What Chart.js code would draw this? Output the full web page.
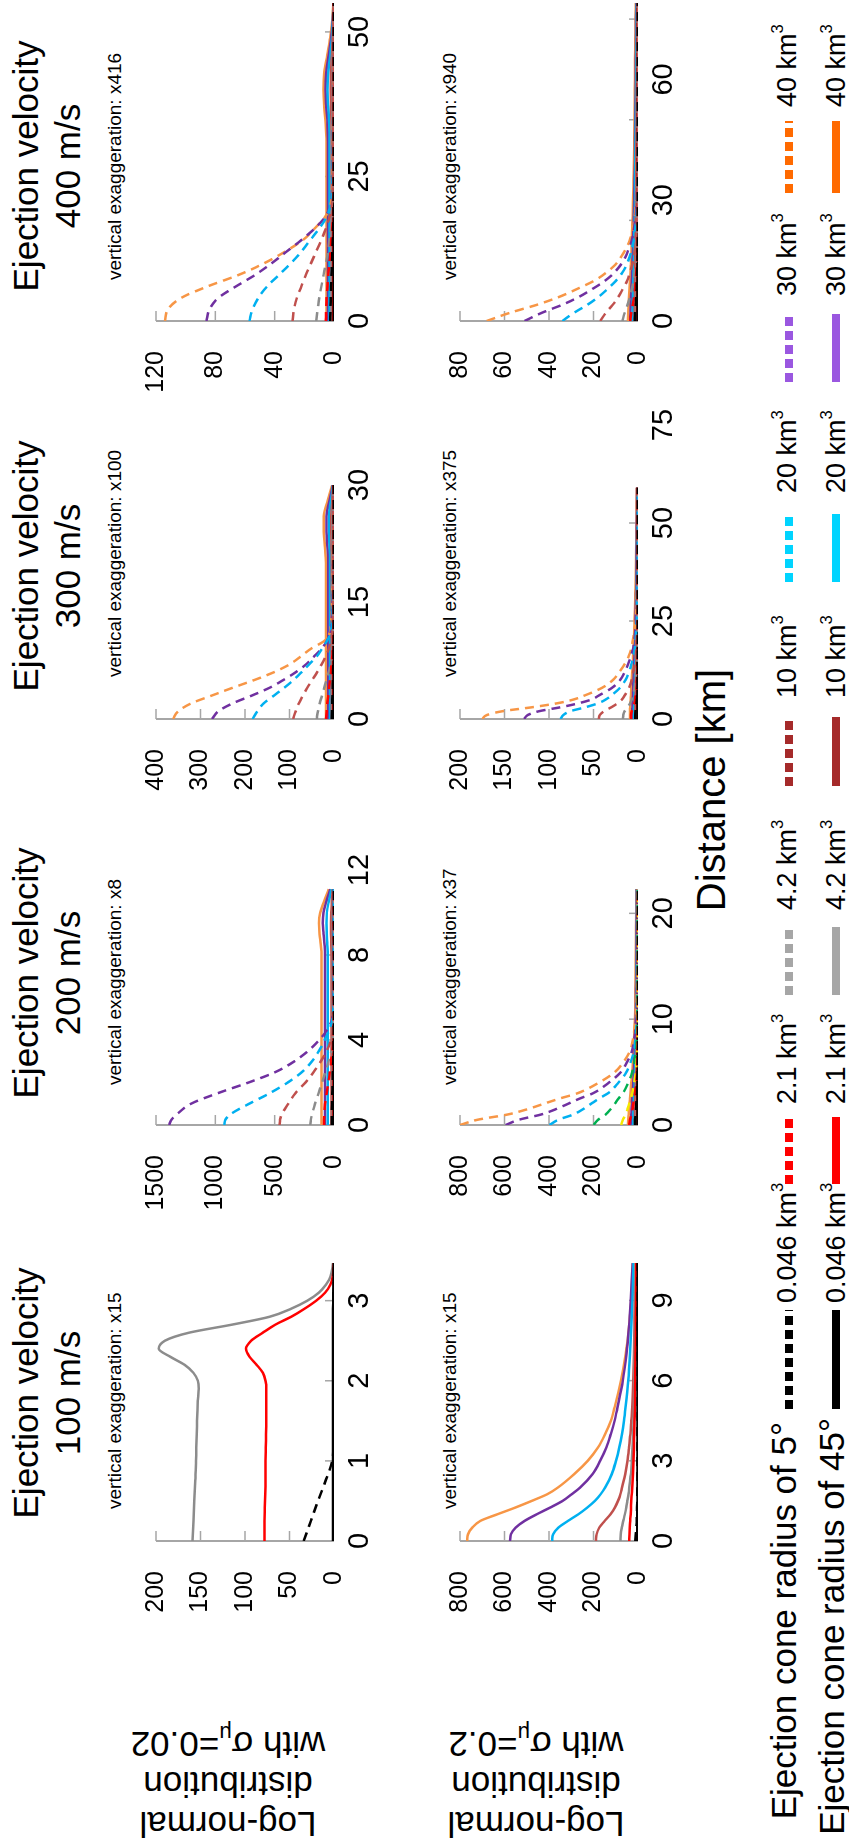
<!DOCTYPE html>
<html>
<head>
<meta charset="utf-8">
<script src="https://cdn.jsdelivr.net/npm/chart.js@4.4.1/dist/chart.umd.min.js"></script>
<style>
html,body{margin:0;padding:0;background:#fff;}
body{width:849px;height:1846px;overflow:hidden;position:relative;font-family:"Liberation Sans",Arial,sans-serif;color:#000;}
#fig{position:absolute;left:0;top:0;width:1846px;height:849px;transform-origin:0 0;transform:translate(0px,1846px) rotate(-90deg);}
#fig canvas{position:absolute;}
.title{position:absolute;top:5px;width:400px;text-align:center;font-size:35px;line-height:42px;white-space:nowrap;}
.note{position:absolute;font-size:19px;line-height:19px;white-space:nowrap;}
.rowlab{position:absolute;width:300px;height:120px;left:-88px;text-align:center;font-size:35px;line-height:40px;transform:rotate(-90deg);white-space:nowrap;}
.rowlab sub{font-size:62%;line-height:0;vertical-align:-0.3em;}
.xlab{position:absolute;left:856px;top:691px;width:400px;text-align:center;font-size:40px;line-height:40px;white-space:nowrap;}
.legtitle{position:absolute;left:0;text-align:right;font-size:35px;line-height:35px;white-space:nowrap;}
.legtext{position:absolute;font-size:27px;line-height:27px;white-space:nowrap;}
.legtext sup{font-size:62%;line-height:0;vertical-align:0.75em;}
.mark{position:absolute;height:8px;}
</style>
</head>
<body>
<div id="fig">
  <div class="title" style="left:253px">Ejection velocity<br>100 m/s</div>
  <div class="title" style="left:673px">Ejection velocity<br>200 m/s</div>
  <div class="title" style="left:1080px">Ejection velocity<br>300 m/s</div>
  <div class="title" style="left:1480px">Ejection velocity<br>400 m/s</div>

  <div class="rowlab" style="top:168px">Log-normal<br>distribution<br>with σ<sub>μ</sub>=0.02</div>
  <div class="rowlab" style="top:476px">Log-normal<br>distribution<br>with σ<sub>μ</sub>=0.2</div>

  <div class="note" style="left:337px;top:105px">vertical exaggeration: x15</div>
  <div class="note" style="left:761px;top:105px">vertical exaggeration: x8</div>
  <div class="note" style="left:1169px;top:105px">vertical exaggeration: x100</div>
  <div class="note" style="left:1566px;top:105px">vertical exaggeration: x416</div>
  <div class="note" style="left:337px;top:440px">vertical exaggeration: x15</div>
  <div class="note" style="left:761px;top:440px">vertical exaggeration: x37</div>
  <div class="note" style="left:1169px;top:440px">vertical exaggeration: x375</div>
  <div class="note" style="left:1566px;top:440px">vertical exaggeration: x940</div>

  <div class="xlab">Distance [km]</div>

  <div class="legtitle" style="top:766px;width:424px">Ejection cone radius of 5°</div>
  <div class="legtitle" style="top:814px;width:428px">Ejection cone radius of 45°</div>
</div>

<script>
// ---------------- DATA ----------------
// Legend categories (volumes)
const volumeLabels = ["0.046","2.1","4.2","10","20","30","40"];

// Panel A: 100 m/s, sigma 0.02
const distA = [0,0.25,0.5,0.75,1,1.25,1.5,1.75,1.9,2,2.1,2.2,2.3,2.4,2.5,2.6,2.7,2.8,2.9,3,3.1,3.2,3.3,3.47];
const A_black5  = [34,26,18,9.5,2,0.6,0.4,0.4,0.4,0.4,0.4,0.4,0.4,0.4,0.4,0.4,0.4,0.4,0.4,0.4,0.4,0.3,0.2,0.1];
const A_black45 = [1,1,1,1,1,1,1,1,1,1,1,1,1,1,1,1,1,1,1,0.9,0.8,0.6,0.4,0.2];
const A_red45   = [78,78,77.5,77,77,76.5,76,76,76,77,80,87,95,99,93,80,66,48,33,20,10,4,1.5,0.3];
const A_gray45  = [159,158,157,156,155,154.5,154,153,152,153,158,168,184,197,190,163,115,72,48,30,17,9,4,1];
const xTicksA = [0,1,2,3], xMarksA = [1,2,3], yTicksA = [0,50,100,150,200];

// Panel B: 100 m/s, sigma 0.2
const distB = [0,0.25,0.5,0.75,1,1.25,1.5,1.75,2,2.5,3,3.5,4,4.5,5,6,7,8,9,10.4];
const B_black5   = [12,10,8,6,5,4,3.5,3,2.8,2.5,2.2,2,1.8,1.6,1.5,1.3,1.2,1.1,1,1];
const B_black45  = [3,3,3,3,3,3,2.8,2.7,2.6,2.5,2.4,2.3,2.2,2.1,2,1.9,1.8,1.7,1.6,1.5];
const B_red45    = [39,38.5,37,35,33,31.5,30,28,26,23,20.5,18.5,17,15.5,14,12.5,11,10,9,8];
const B_gray45   = [79,78,73,66,59,53,48,43,39,32,28,25,22,20,18,16,15,14,13,12];
const B_brown45  = [189,186,174,150,124,104,90,79,72,57,47,40,34,30,26,21,18,16,14,12];
const B_cyan45   = [386,381,358,315,268,228,194,168,148,118,99,84,72,63,56,44,36,30,25,20];
const B_purple45 = [575,571,550,510,455,395,339,298,260,205,170,142,122,105,92,68,52,41,33,24];
const B_orange45 = [768,764,745,709,632,552,478,408,360,287,226,180,148,122,105,77,55,40,30,24];
const xTicksB = [0,3,6,9], xMarksB = [3,6,9], yTicksB = [0,200,400,600,800];

// Panel C: 200 m/s, sigma 0.02
const distC = [0,0.25,0.5,1,1.5,2,2.5,3,3.5,4,4.5,5,5.5,6,7,8,8.5,9,9.5,10,10.5,11.1];
const C_black5  = [20,19.5,19,17,14.5,12,9.5,7,5,3,1.5,0.5,0.3,0.3,0.3,0.3,0.3,0.3,0.3,0.3,0.3,0.3];
const C_red5    = [85,84,82,75,62,48,35,24,14,7,3,1,0.5,0.5,0.5,0.5,0.5,0.5,0.5,0.5,0.5,0.5];
const C_gray5   = [200,195,185,160,130,100,72,45,22,8,3,1.5,1,0.8,0.8,0.8,0.8,0.8,0.8,0.8,0.8,0.8];
const C_brown5  = [459,455,440,385,325,240,170,111,60,25,10,5,3,2,1.5,1,1,1,1,1,1,1];
const C_cyan5   = [926,915,874,715,540,390,268,185,125,78,38,12,5,3,2,1.5,1.5,1.5,1.5,1.5,1.5,1.5];
const C_purple5 = [1390,1370,1325,1205,978,720,490,333,215,125,55,15,6,4,2,1.5,1.5,1.5,1.5,1.5,1.5,1.5];
const C_black45  = [1,1,1,1,1,1,1,1,1,1,1,1,1,1,1,1,1,1,1,1,1,1];
const C_red45    = [5,5,5,5,5,5,5,5,5,5,5,5,5,5,5,5,5,5.5,5.5,5,4,2.5];
const C_gray45   = [10,10,10,10,10,10,10,10,10,10,10,10,10,10,10,10,10.5,11,11.5,11,8,5];
const C_brown45  = [22,22,22,22,22,22,22,22,22,22,22,22,22,22,22,22,23,25,26,24,18,10];
const C_cyan45   = [52,52,52,52,52,52,52,52,52,52,52,52,52,52,52,52,56,61,64,60,45,22];
const C_purple45 = [75,75,75,75,75,75,75,75,75,75,75,75,75,75,75,75,80,88,95,88,65,32];
const C_orange45 = [105,105,105,105,105,105,105,105,105,105,105,105,105,105,105,105,112,122,126,116,85,45];
const xTicksC = [0,4,8,12], xMarksC = [4,8], yTicksC = [0,500,1000,1500];

// Panel D: 200 m/s, sigma 0.2
const distD = [0,0.5,1,1.5,2,2.5,3,4,5,6,7,8,9,10,12,14,16,18,20,22.3];
const D_black5  = [14,13,11,9,8,6.5,5,3.5,2,1.2,0.8,0.5,0.4,0.3,0.3,0.3,0.3,0.3,0.3,0.3];
const D_red5    = [40,36,29,25,21,18,14,9,5,3,2,1.2,0.8,0.6,0.5,0.4,0.4,0.3,0.3,0.3];
const D_yellow5 = [76,68,55,47,40,33,26,17,10,6,3.5,2.3,1.5,1,0.8,0.6,0.5,0.5,0.4,0.4];
const D_green5  = [199,179,145,123,105,88,68,44,26,16,9,6,4,3,2,1,1,1,0.5,0.5];
const D_cyan5   = [398,358,290,247,211,175,135,88,52,32,18,12,8,5,3,2,1.5,1,1,1];
const D_purple5 = [595,535,434,369,315,262,202,131,77,48,27,18,12,7,4,3,2,2,1.5,1];
const D_orange5 = [800,720,584,496,424,352,272,176,104,64,36,24,16,10,6,4,3,2.5,2,1.5];
const D_black45  = [2,2,2,2,1.9,1.9,1.8,1.7,1.6,1.5,1.4,1.3,1.2,1.1,1,0.9,0.8,0.7,0.6,0.5];
const D_red45    = [5,5,4.9,4.8,4.7,4.6,4.5,4.2,4,3.7,3.4,3.2,3,2.8,2.5,2.2,2,1.8,1.6,1.5];
const D_gray45   = [8,8,7.8,7.6,7.4,7.2,7,6.6,6.2,5.8,5.4,5,4.6,4.3,3.8,3.3,2.9,2.5,2.2,2];
const D_brown45  = [14,14,13.5,13,12.5,12,11,10,8.5,7.5,6.5,6,5.5,5,4.5,4,3.5,3,3,3];
const D_cyan45   = [22,21.5,21,20,19,18,17,15,13,12,10.5,9.5,8.5,7.5,6.5,5.5,5,4.5,4,4];
const D_purple45 = [32,31,30,29,27,26,24,21,19,17,15,13,12,10,9,8,7,6.5,6,6];
const D_orange45 = [45,44,42,40,38,36,34,30,26,23,20,18,16,14,12,11,10,9,8,8];
const xTicksD = [0,10,20], xMarksD = [10,20], yTicksD = [0,200,400,600,800];

// Panel E: 300 m/s, sigma 0.02
const distE = [0,1,2,3,4,5,6,7,8,9,10,11,12,14,16,18,20,22,24,26,28,30];
const E_black5  = [5,4.5,4,3.5,3,2.5,2,1.5,1,1,0.8,0.6,0.5,0.5,0.5,0.5,0.5,0.5,0.5,0.5,0.5,0.5];
const E_red5    = [18,16.5,15,13,11,9,7,5.5,4,3,2,1.5,1,1,1,1,1,1,1,1,1,1];
const E_gray5   = [39,36,32,27,22,17,12,8,5,3,2,1.5,1,1,1,1,1,1,1,1,1,1];
const E_brown5  = [92,86,79,70,60,49,38,28,19,12,7,4,3,2,1.5,1.5,1,1,1,1,1,1];
const E_cyan5   = [183,172,158,135,112,91,73,56,39,27,16,8,5,3,2.5,2,1.5,1.5,1,1,1,1];
const E_purple5 = [274,260,228,185,145,114,86,63,45,28,16,8,6,4,3,2,2,1.5,1,1,1,1];
const E_orange5 = [362,350,321,275,228,179,135,100,75,52,22,10,7,5,4,3,2.5,2,1.5,1,1,1];
const E_black45  = [0.5,0.5,0.5,0.5,0.5,0.5,0.5,0.5,0.5,0.5,0.5,0.5,0.5,0.5,0.5,0.5,0.5,0.5,0.5,0.5,0.5,0.5];
const E_red45    = [1.5,1.5,1.5,1.5,1.5,1.5,1.5,1.5,1.5,1.5,1.5,1.5,1.5,1.5,1.5,1.5,1.5,1.5,1.5,1.5,1.2,0.8];
const E_gray45   = [3,3,3,3,3,3,3,3,3,3,3,3,3,3,3,3,3,3,3.5,3.5,2.5,1];
const E_brown45  = [5,5,5,5,5,5,5,5,5,5,5,5,5,5,5,5,5,5.5,6,6,4,1.5];
const E_cyan45   = [9,9,9,9,9,9,9,9,9,9,9,9,9,9,9,9,9,10,11.5,11.5,7,2.5];
const E_purple45 = [13,13,13,13,13,13,13,13,13,13,13,13,13,13,13,13,13,14.5,17,17,10,3];
const E_orange45 = [18,18,18,18,18,18,18,18,18,18,18,18,18,18,18,18,18,20,23,23,14,4];
const xTicksE = [0,15,30], xMarksE = [15], yTicksE = [0,100,200,300,400];

// Panel F: 300 m/s, sigma 0.2
const distF = [0,1,2,3,4,5,6,8,10,12,14,16,18,20,24,28,32,36,40,45,50,55,59];
const F_black5  = [3,3,2.7,2.1,1.6,1.3,1,0.7,0.5,0.4,0.3,0.2,0.2,0.2,0.2,0.2,0.2,0.2,0.2,0.2,0.2,0.2,0.2];
const F_red5    = [8,7.8,7,5.5,4.2,3.3,2.7,1.8,1.3,0.9,0.7,0.5,0.3,0.3,0.2,0.2,0.2,0.2,0.2,0.2,0.2,0.2,0.2];
const F_gray5   = [17,16.5,15,11.5,9,7,5.8,3.9,2.7,2,1.4,1,0.7,0.6,0.3,0.2,0.2,0.2,0.2,0.2,0.2,0.2,0.2];
const F_brown5  = [44,43,38,30,23,18,15,10,7,5.3,3.7,2.6,1.9,1.5,0.8,0.5,0.3,0.2,0.2,0.2,0.2,0.2,0.2];
const F_cyan5   = [87,84,76,59,45,36,30,20,14,10,7.4,5.2,3.7,2.9,1.6,0.9,0.6,0.4,0.3,0.3,0.3,0.2,0.2];
const F_purple5 = [128,124,111,87,67,52,44,29,20,15,11,8,5.5,4.2,2.3,1.3,0.9,0.6,0.5,0.4,0.4,0.3,0.3];
const F_orange5 = [175,170,152,119,91,72,60,40,28,21,15,10.5,7.5,5.8,3.2,1.8,1.2,0.9,0.7,0.6,0.5,0.4,0.4];
const F_black45  = [0.6,0.6,0.6,0.6,0.6,0.6,0.6,0.5,0.5,0.5,0.5,0.5,0.4,0.4,0.4,0.4,0.3,0.3,0.3,0.3,0.3,0.2,0.2];
const F_red45    = [1.5,1.5,1.5,1.5,1.4,1.4,1.4,1.3,1.3,1.2,1.2,1.1,1.1,1,1,0.9,0.8,0.8,0.7,0.7,0.6,0.6,0.5];
const F_gray45   = [2,2,2,2,1.9,1.9,1.9,1.8,1.7,1.6,1.6,1.5,1.4,1.3,1.2,1.1,1,0.9,0.8,0.8,0.7,0.6,0.6];
const F_brown45  = [3,3,3,2.9,2.8,2.8,2.7,2.5,2.4,2.2,2.1,2,1.8,1.7,1.5,1.3,1.2,1.1,1,0.9,0.8,0.7,0.7];
const F_cyan45   = [4.5,4.5,4.5,4.4,4.2,4.1,4,3.7,3.5,3.2,3,2.8,2.5,2.3,2,1.7,1.5,1.3,1.2,1,0.9,0.8,0.8];
const F_purple45 = [6.5,6.5,6.5,6.3,6.1,5.9,5.7,5.4,5,4.7,4.3,4,3.6,3.3,2.9,2.5,2.2,1.9,1.7,1.5,1.3,1.2,1.1];
const F_orange45 = [9,9,9,8.8,8.5,8.2,8,7.5,7,6.5,6,5.5,5,4.6,4,3.4,3,2.6,2.3,2,1.8,1.6,1.5];
const xTicksF = [0,25,50,75], xMarksF = [25,50], yTicksF = [0,50,100,150,200];

// Panel G: 400 m/s, sigma 0.02
const distG = [0,2,4,6,8,10,12,14,16,18,20,22,25,28,31,34,37,40,43,46,49,52,55];
const G_black5  = [2.5,2.4,2.2,2,1.7,1.4,1.1,0.8,0.6,0.4,0.3,0.2,0.2,0.2,0.2,0.2,0.2,0.2,0.2,0.2,0.2,0.2,0.2];
const G_red5    = [5.5,5.3,5,4.4,3.8,3.1,2.4,1.8,1.2,0.8,0.5,0.4,0.3,0.3,0.3,0.3,0.3,0.3,0.3,0.3,0.3,0.3,0.3];
const G_gray5   = [12,11,10,8.5,7,5.5,4,3,2,1.2,0.8,0.6,0.5,0.5,0.4,0.4,0.4,0.3,0.3,0.3,0.3,0.2,0.2];
const G_brown5  = [28,27,25,22,19,15.5,12,8.5,5.5,3,1.5,1,0.8,0.7,0.6,0.5,0.5,0.4,0.4,0.4,0.3,0.3,0.3];
const G_cyan5   = [57,55,51,45,37,29,22,16,10,5,2.5,1.5,1,0.8,0.7,0.6,0.5,0.5,0.5,0.4,0.4,0.3,0.3];
const G_purple5 = [86,84,78,66,53,42,32,22,13,6,2.5,1.5,1,0.8,0.7,0.6,0.5,0.5,0.5,0.4,0.4,0.3,0.3];
const G_orange5 = [114,112,103,85,64,47,33,21,13,6,2.5,1.5,1,0.8,0.7,0.6,0.5,0.5,0.5,0.4,0.4,0.3,0.3];
const G_black45  = [0.2,0.2,0.2,0.2,0.2,0.2,0.2,0.2,0.2,0.2,0.2,0.2,0.2,0.2,0.2,0.2,0.2,0.2,0.2,0.2,0.2,0.2,0.2];
const G_red45    = [0.5,0.5,0.5,0.5,0.5,0.5,0.5,0.5,0.5,0.5,0.5,0.5,0.5,0.5,0.5,0.5,0.6,0.6,0.6,0.5,0.4,0.3,0.2];
const G_gray45   = [0.9,0.9,0.9,0.9,0.9,0.9,0.9,0.9,0.9,0.9,0.9,0.9,0.9,0.9,0.9,1,1.1,1.2,1.1,0.8,0.5,0.3,0.2];
const G_brown45  = [1.6,1.6,1.6,1.6,1.6,1.6,1.6,1.6,1.6,1.6,1.6,1.6,1.6,1.6,1.6,1.7,2,2.2,2,1.4,0.8,0.4,0.2];
const G_cyan45   = [3,3,3,3,3,3,3,3,3,3,3,3,3,3,3,3.2,3.9,4.3,3.9,2.6,1.3,0.7,0.3];
const G_purple45 = [4,4,4,4,4,4,4,4,4,4,4,4,4,4,4,4.3,5.2,5.8,5.3,3.5,1.8,0.9,0.4];
const G_orange45 = [5,5,5,5,5,5,5,5,5,5,5,5,5,5,5,5.5,6.5,7,6.5,4.5,2.5,1.2,0.5];
const xTicksG = [0,25,50], xMarksG = [25,50], yTicksG = [0,40,80,120];

// Panel H: 400 m/s, sigma 0.2
const distH = [0,2,4,6,8,10,12,14,16,18,20,23,26,30,35,40,45,50,55,60,65,70,75,79];
const H_black5  = [1.5,1.3,1,0.8,0.6,0.5,0.4,0.3,0.2,0.1,0.1,0.1,0.1,0.1,0.1,0.1,0.1,0.1,0.1,0.1,0.1,0.1,0.1,0.1];
const H_red5    = [3.5,3,2.4,1.8,1.4,1,0.8,0.6,0.4,0.3,0.2,0.1,0.1,0.1,0.1,0.1,0.1,0.1,0.1,0.1,0.1,0.1,0.1,0.1];
const H_gray5   = [7,6,4.7,3.6,2.8,2,1.5,1.1,0.8,0.6,0.4,0.3,0.2,0.1,0.1,0.1,0.1,0.1,0.1,0.1,0.1,0.1,0.1,0.1];
const H_brown5  = [17,14.5,11.4,8.8,6.8,4.9,3.6,2.6,1.9,1.4,0.9,0.6,0.4,0.2,0.2,0.1,0.1,0.1,0.1,0.1,0.1,0.1,0.1,0.1];
const H_cyan5   = [34,28.9,22.8,17.7,13.6,9.9,7.1,5.1,3.7,2.7,1.9,1.2,0.7,0.4,0.3,0.2,0.2,0.2,0.1,0.1,0.1,0.1,0.1,0.1];
const H_purple5 = [51,43.4,34.2,26.5,20.4,14.8,10.7,7.7,5.6,4.1,2.8,1.8,1.1,0.7,0.4,0.3,0.3,0.2,0.2,0.2,0.2,0.1,0.1,0.1];
const H_orange5 = [68,57.8,45.6,35.4,27.2,19.7,14.3,10.2,7.5,5.4,3.7,2.4,1.5,0.9,0.5,0.4,0.3,0.3,0.3,0.2,0.2,0.2,0.1,0.1];
const H_black45  = [0.2,0.2,0.2,0.2,0.2,0.2,0.2,0.2,0.2,0.2,0.2,0.2,0.1,0.1,0.1,0.1,0.1,0.1,0.1,0.1,0.1,0.1,0.1,0.1];
const H_red45    = [0.5,0.5,0.5,0.5,0.5,0.5,0.5,0.4,0.4,0.4,0.4,0.4,0.4,0.3,0.3,0.3,0.3,0.3,0.3,0.2,0.2,0.2,0.2,0.2];
const H_gray45   = [0.9,0.9,0.9,0.9,0.8,0.8,0.8,0.8,0.7,0.7,0.7,0.6,0.6,0.6,0.5,0.5,0.4,0.4,0.4,0.3,0.3,0.3,0.3,0.2];
const H_brown45  = [1.5,1.5,1.5,1.4,1.4,1.3,1.3,1.2,1.2,1.1,1.1,1,1,0.9,0.8,0.8,0.7,0.6,0.6,0.5,0.5,0.5,0.4,0.4];
const H_cyan45   = [2.5,2.4,2.4,2.3,2.2,2.1,2,1.9,1.8,1.8,1.7,1.6,1.5,1.4,1.3,1.2,1.1,1,0.9,0.8,0.8,0.7,0.7,0.6];
const H_purple45 = [3.5,3.4,3.3,3.1,3,2.8,2.7,2.5,2.4,2.3,2.2,2,1.9,1.7,1.6,1.4,1.3,1.2,1.1,1,1,0.9,0.9,0.8];
const H_orange45 = [4.5,4.4,4.2,4,3.8,3.6,3.4,3.2,3,2.9,2.8,2.6,2.4,2.2,2,1.8,1.7,1.6,1.5,1.4,1.3,1.2,1.1,1];
const xTicksH = [0,30,60], xMarksH = [25,50,75], yTicksH = [0,20,40,60,80];

// ---------------- STYLE ----------------
const LINE = {black:'#000000', red:'#ff0000', gray:'#8c8c8c', brown:'#c0504d', cyan:'#00b0f0',
              purple:'#7030a0', orange:'#f79646', green:'#00b050', yellow:'#f5e800'};
const LEG = {black:'#000000', red:'#ff0000', gray:'#a6a6a6', brown:'#a52a2a', cyan:'#00d4ff',
             purple:'#9a57e0', orange:'#ff6a00'};
const legendColors = ['black','red','gray','brown','cyan','purple','orange'];
const FONT = '"Liberation Sans", Arial, sans-serif';

function S(v,c,d){ return {v:v, c:c, d:d}; }

const PANELS = [
 {dist:distA, x0:305, w:278, xMax:3.47, row:0, yMax:200, xt:xTicksA, xm:xMarksA, yt:yTicksA,
  series:[S(A_black5,'black',true),S(A_black45,'black',false),S(A_red45,'red',false),S(A_gray45,'gray',false)]},
 {dist:distB, x0:305, w:278, xMax:10.4, row:1, yMax:800, xt:xTicksB, xm:xMarksB, yt:yTicksB,
  series:[S(B_black5,'black',true),S(B_black45,'black',false),S(B_red45,'red',false),S(B_gray45,'gray',false),
          S(B_brown45,'brown',false),S(B_cyan45,'cyan',false),S(B_purple45,'purple',false),S(B_orange45,'orange',false)]},
 {dist:distC, x0:721, w:255, xMax:12, row:0, yMax:1500, xt:xTicksC, xm:xMarksC, yt:yTicksC,
  series:[S(C_black5,'black',true),S(C_red5,'red',true),S(C_gray5,'gray',true),S(C_brown5,'brown',true),
          S(C_cyan5,'cyan',true),S(C_purple5,'purple',true),
          S(C_black45,'black',false),S(C_red45,'red',false),S(C_gray45,'gray',false),S(C_brown45,'brown',false),
          S(C_cyan45,'cyan',false),S(C_purple45,'purple',false),S(C_orange45,'orange',false)]},
 {dist:distD, x0:721, w:236, xMax:22.3, row:1, yMax:800, xt:xTicksD, xm:xMarksD, yt:yTicksD,
  series:[S(D_black5,'black',true),S(D_red5,'red',true),S(D_yellow5,'yellow',true),S(D_green5,'green',true),
          S(D_cyan5,'cyan',true),S(D_purple5,'purple',true),S(D_orange5,'orange',true),
          S(D_black45,'black',false),S(D_red45,'red',false),S(D_gray45,'gray',false),S(D_brown45,'brown',false),
          S(D_cyan45,'cyan',false),S(D_purple45,'purple',false),S(D_orange45,'orange',false)]},
 {dist:distE, x0:1127, w:234, xMax:30, row:0, yMax:400, xt:xTicksE, xm:xMarksE, yt:yTicksE,
  series:[S(E_black5,'black',true),S(E_red5,'red',true),S(E_gray5,'gray',true),S(E_brown5,'brown',true),
          S(E_cyan5,'cyan',true),S(E_purple5,'purple',true),S(E_orange5,'orange',true),
          S(E_black45,'black',false),S(E_red45,'red',false),S(E_gray45,'gray',false),S(E_brown45,'brown',false),
          S(E_cyan45,'cyan',false),S(E_purple45,'purple',false),S(E_orange45,'orange',false)]},
 {dist:distF, x0:1127, w:294, xMax:75, row:1, yMax:200, xt:xTicksF, xm:xMarksF, yt:yTicksF,
  series:[S(F_black5,'black',true),S(F_red5,'red',true),S(F_gray5,'gray',true),S(F_brown5,'brown',true),
          S(F_cyan5,'cyan',true),S(F_purple5,'purple',true),S(F_orange5,'orange',true),
          S(F_black45,'black',false),S(F_red45,'red',false),S(F_gray45,'gray',false),S(F_brown45,'brown',false),
          S(F_cyan45,'cyan',false),S(F_purple45,'purple',false),S(F_orange45,'orange',false)]},
 {dist:distG, x0:1525, w:318, xMax:55, row:0, yMax:120, xt:xTicksG, xm:xMarksG, yt:yTicksG,
  series:[S(G_black5,'black',true),S(G_red5,'red',true),S(G_gray5,'gray',true),S(G_brown5,'brown',true),
          S(G_cyan5,'cyan',true),S(G_purple5,'purple',true),S(G_orange5,'orange',true),
          S(G_black45,'black',false),S(G_red45,'red',false),S(G_gray45,'gray',false),S(G_brown45,'brown',false),
          S(G_cyan45,'cyan',false),S(G_purple45,'purple',false),S(G_orange45,'orange',false)]},
 {dist:distH, x0:1525, w:318, xMax:79, row:1, yMax:80, xt:xTicksH, xm:xMarksH, yt:yTicksH,
  series:[S(H_black5,'black',true),S(H_red5,'red',true),S(H_gray5,'gray',true),S(H_brown5,'brown',true),
          S(H_cyan5,'cyan',true),S(H_purple5,'purple',true),S(H_orange5,'orange',true),
          S(H_black45,'black',false),S(H_red45,'red',false),S(H_gray45,'gray',false),S(H_brown45,'brown',false),
          S(H_cyan45,'cyan',false),S(H_purple45,'purple',false),S(H_orange45,'orange',false)]}
];

const fig = document.getElementById('fig');
const ROW_TOP = [131, 435];
const PLOT_H = 203;
const LW = 100, TP = 20, RP = 34, BH = 52;

function makePanel(p){
  const cv = document.createElement('canvas');
  const W = LW + p.w + RP, H = TP + PLOT_H + BH;
  cv.width = W; cv.height = H;
  cv.style.width = W + 'px'; cv.style.height = H + 'px';
  cv.style.left = (p.x0 - LW) + 'px';
  cv.style.top = (ROW_TOP[p.row] - TP) + 'px';
  fig.appendChild(cv);

  const axesPlugin = {
    id: 'axesMarks',
    beforeDatasetsDraw(chart){
      const ctx = chart.ctx, a = chart.chartArea, xs = chart.scales.x, ys = chart.scales.y;
      ctx.save();
      ctx.strokeStyle = '#a6a6a6';
      ctx.lineWidth = 2;
      ctx.beginPath();
      ctx.moveTo(a.left, ys.getPixelForValue(0));
      ctx.lineTo(a.left, ys.getPixelForValue(p.yMax));
      ctx.stroke();
      ctx.lineWidth = 1.5;
      p.yt.forEach(v => { if (v > 0) {
        const py = ys.getPixelForValue(v);
        ctx.beginPath(); ctx.moveTo(a.left, py); ctx.lineTo(a.left + 10, py); ctx.stroke();
      }});
      p.xm.forEach(v => {
        const px = xs.getPixelForValue(v);
        ctx.beginPath(); ctx.moveTo(px, a.bottom); ctx.lineTo(px, a.bottom - 9); ctx.stroke();
      });
      ctx.restore();
    }
  };

  new Chart(cv, {
    type: 'line',
    data: {
      datasets: p.series.map(s => ({
        data: p.dist.map((x, i) => ({x: x, y: s.v[i]})),
        borderColor: LINE[s.c],
        borderWidth: 2.5,
        borderDash: s.d ? [9, 6] : [],
        pointRadius: 0,
        fill: false,
        cubicInterpolationMode: 'monotone'
      }))
    },
    options: {
      responsive: false, animation: false, devicePixelRatio: 1,
      layout: {padding: {top: TP, right: RP, left: 0, bottom: 0}},
      plugins: {legend: {display: false}, tooltip: {enabled: false}},
      events: [],
      scales: {
        x: {
          type: 'linear', min: 0, max: p.xMax,
          afterBuildTicks: s => { s.ticks = p.xt.map(v => ({value: v})); },
          afterFit: s => { s.height = BH; },
          grid: {display: false, drawTicks: false},
          border: {display: false},
          ticks: {font: {family: FONT, size: 29}, color: '#000', padding: 9, maxRotation: 0, autoSkip: false,
                  callback: v => String(v)}
        },
        y: {
          type: 'linear', min: 0, max: p.yMax,
          afterBuildTicks: s => { s.ticks = p.yt.map(v => ({value: v})); },
          afterFit: s => { s.width = LW; },
          grid: {display: false, drawTicks: false},
          border: {display: false},
          ticks: {font: {family: FONT, size: 25}, color: '#000', padding: 30, autoSkip: false,
                  callback: v => String(v)}
        }
      }
    },
    plugins: [axesPlugin]
  });
}

PANELS.forEach(makePanel);

// ---------------- LEGEND ----------------
const legendItems = [
  {m0:437, m1:536, t:543},
  {m0:662, m1:729, t:742},
  {m0:851, m1:919, t:936},
  {m0:1060, m1:1129, t:1148},
  {m0:1264, m1:1332, t:1353},
  {m0:1464, m1:1532, t:1550},
  {m0:1653, m1:1725, t:1739}
];
legendItems.forEach((it, i) => {
  const col = LEG[legendColors[i]];
  [0,1].forEach(r => {
    const m = document.createElement('div');
    m.className = 'mark';
    m.style.left = it.m0 + 'px';
    m.style.width = (it.m1 - it.m0) + 'px';
    m.style.top = (r === 0 ? 785 : 832) + 'px';
    m.style.background = r === 0
      ? 'repeating-linear-gradient(90deg,' + col + ' 0px,' + col + ' 9px,transparent 9px,transparent 14px)'
      : col;
    fig.appendChild(m);
    const t = document.createElement('div');
    t.className = 'legtext';
    t.style.left = it.t + 'px';
    t.style.top = (r === 0 ? 774 : 823) + 'px';
    t.innerHTML = volumeLabels[i] + ' km<sup>3</sup>';
    fig.appendChild(t);
  });
});
</script>
</body>
</html>
